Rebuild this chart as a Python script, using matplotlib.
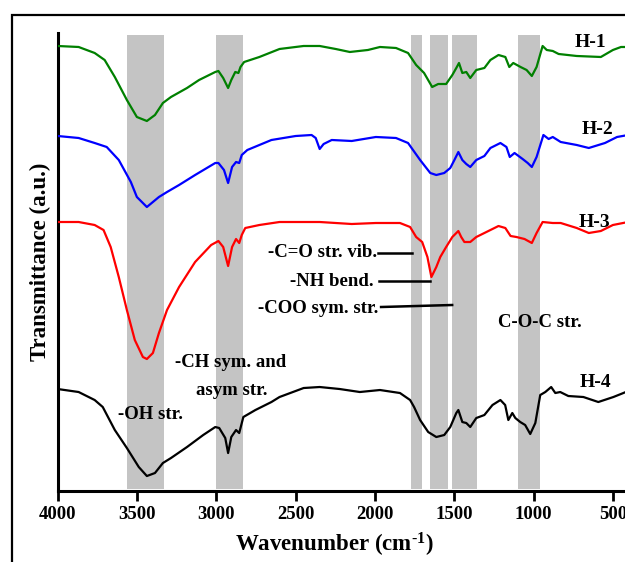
import numpy as np
import matplotlib
matplotlib.use('Agg')
import matplotlib.pyplot as plt
from matplotlib.patches import Rectangle

plt.rcParams['font.family'] = ['Liberation Serif', 'DejaVu Serif']
plt.rcParams['font.weight'] = 'bold'
plt.rcParams['mathtext.fontset'] = 'custom'
plt.rcParams['mathtext.rm'] = 'Liberation Serif:bold'
plt.rcParams['mathtext.bf'] = 'Liberation Serif:bold'
plt.rcParams['mathtext.default'] = 'bf'

# spectra (wavenumber, transmittance a.u. incl. stacking offset)
wn_h1 = [4000, 3868, 3767, 3704, 3640, 3564, 3501, 3438, 3387, 3337, 3286, 3185, 3109,
         3007, 2987, 2957, 2926, 2906, 2881, 2861, 2848, 2825, 2729, 2602, 2450, 2349,
         2248, 2159, 2045, 1969, 1868, 1792, 1741, 1691, 1640, 1602, 1552, 1513, 1488,
         1471, 1450, 1425, 1400, 1362, 1311, 1273, 1222, 1179, 1154, 1129, 1083, 1045,
         1012, 982, 944, 918, 880, 843, 729, 577, 501, 450, 405]
t_h1 = [4.45, 4.44, 4.38, 4.31, 4.14, 3.91, 3.74, 3.70, 3.76, 3.88, 3.94, 4.03, 4.11,
        4.19, 4.20, 4.13, 4.03, 4.11, 4.19, 4.18, 4.24, 4.29, 4.34, 4.42, 4.45, 4.45,
        4.42, 4.39, 4.41, 4.44, 4.43, 4.38, 4.26, 4.18, 4.04, 4.07, 4.07, 4.16, 4.23,
        4.28, 4.18, 4.19, 4.13, 4.21, 4.23, 4.31, 4.36, 4.34, 4.24, 4.28, 4.24, 4.21,
        4.15, 4.24, 4.45, 4.41, 4.40, 4.37, 4.35, 4.34, 4.41, 4.44, 4.44]

wn_h2 = [4000, 3868, 3767, 3691, 3615, 3539, 3501, 3438, 3362, 3311, 3235, 3134, 3007,
         2987, 2952, 2926, 2901, 2876, 2856, 2840, 2805, 2653, 2500, 2400, 2374, 2349,
         2324, 2273, 2147, 1995, 1868, 1792, 1716, 1652, 1614, 1564, 1526, 1500, 1475,
         1450, 1425, 1400, 1362, 1311, 1273, 1210, 1172, 1151, 1121, 1070, 1038, 1012,
         982, 939, 906, 880, 830, 729, 653, 551, 475, 405]
t_h2 = [3.55, 3.53, 3.48, 3.44, 3.31, 3.09, 2.94, 2.84, 2.94, 2.99, 3.06, 3.16, 3.28,
        3.28, 3.21, 3.08, 3.24, 3.29, 3.28, 3.36, 3.41, 3.51, 3.55, 3.56, 3.53, 3.42,
        3.47, 3.51, 3.50, 3.54, 3.53, 3.48, 3.31, 3.18, 3.16, 3.18, 3.23, 3.31, 3.39,
        3.31, 3.27, 3.24, 3.31, 3.35, 3.43, 3.48, 3.44, 3.34, 3.38, 3.32, 3.28, 3.24,
        3.34, 3.56, 3.52, 3.54, 3.49, 3.46, 3.43, 3.48, 3.54, 3.56]

wn_h3 = [4000, 3868, 3767, 3711, 3666, 3615, 3564, 3514, 3463, 3438, 3400, 3362, 3311,
         3235, 3134, 3033, 2987, 2957, 2926, 2901, 2876, 2856, 2840, 2818, 2729, 2602,
         2349, 2147, 1995, 1843, 1779, 1741, 1703, 1670, 1645, 1614, 1589, 1552, 1513,
         1475, 1457, 1437, 1400, 1362, 1311, 1222, 1179, 1146, 1109, 1058, 1012, 982,
         944, 880, 830, 729, 653, 577, 501, 405]
t_h3 = [2.69, 2.69, 2.66, 2.61, 2.44, 2.14, 1.81, 1.51, 1.34, 1.32, 1.38, 1.58, 1.81,
        2.04, 2.29, 2.46, 2.50, 2.44, 2.25, 2.44, 2.52, 2.48, 2.56, 2.63, 2.66, 2.69,
        2.69, 2.67, 2.68, 2.68, 2.64, 2.54, 2.49, 2.34, 2.14, 2.24, 2.34, 2.44, 2.54,
        2.60, 2.54, 2.49, 2.49, 2.54, 2.58, 2.65, 2.63, 2.55, 2.54, 2.52, 2.48, 2.58,
        2.69, 2.68, 2.68, 2.63, 2.58, 2.60, 2.66, 2.69]

wn_h4 = [4000, 3868, 3767, 3716, 3640, 3564, 3489, 3438, 3387, 3337, 3286, 3185, 3083,
         3007, 2982, 2944, 2926, 2906, 2876, 2856, 2830, 2754, 2653, 2602, 2450, 2349,
         2223, 2096, 1969, 1843, 1779, 1754, 1716, 1665, 1614, 1564, 1526, 1488, 1475,
         1450, 1425, 1400, 1362, 1311, 1260, 1210, 1180, 1160, 1135, 1116, 1085, 1054,
         1022, 990, 959, 927, 890, 864, 833, 782, 687, 593, 498, 435, 405]
t_h4 = [1.02, 0.99, 0.91, 0.84, 0.61, 0.43, 0.24, 0.15, 0.18, 0.28, 0.33, 0.44, 0.56,
        0.64, 0.63, 0.53, 0.38, 0.54, 0.61, 0.58, 0.74, 0.81, 0.89, 0.94, 1.03, 1.04,
        1.02, 0.99, 1.01, 0.98, 0.91, 0.84, 0.71, 0.59, 0.54, 0.56, 0.64, 0.78, 0.81,
        0.69, 0.68, 0.64, 0.73, 0.76, 0.86, 0.91, 0.86, 0.71, 0.78, 0.73, 0.69, 0.66,
        0.57, 0.68, 0.96, 0.99, 1.04, 0.98, 0.99, 0.95, 0.94, 0.89, 0.94, 0.98, 1.00]

series = [(wn_h1, t_h1, '#008000', 'H-1'),
          (wn_h2, t_h2, '#0000ff', 'H-2'),
          (wn_h3, t_h3, '#ff0000', 'H-3'),
          (wn_h4, t_h4, '#000000', 'H-4')]
label_pos = [(644, 4.48), (600, 3.61), (618, 2.69), (612, 1.09)]

# highlighted bands (wavenumber ranges)
bands = [(3565, 3330), (3004, 2832), (1772, 1705), (1655, 1542), (1516, 1358), (1102, 962)]

fig = plt.figure(figsize=(6.25, 5.62), dpi=100)
ax = fig.add_axes([0.0923, 0.1263, 0.914, 0.815])

for lo, hi in bands:
    ax.axvspan(hi, lo, ymin=0.004, ymax=0.996, color='#c4c4c4', lw=0, zorder=0)

for (wn, t, col, name), (lx, ly) in zip(series, label_pos):
    ax.plot(wn, t, color=col, lw=1.6, zorder=3, solid_joinstyle='round')
    ax.text(lx, ly, name, fontsize=14, fontweight='bold', ha='center', va='center', zorder=4)

txt = dict(fontsize=13.5, fontweight='bold', va='center')
ax.text(3412, 0.77, '-OH str.', ha='center', **txt)
ax.text(2913, 1.29, '-CH sym. and', ha='center', **txt)
ax.text(2900, 1.01, 'asym str.', ha='center', **txt)
ax.text(959, 1.69, 'C-O-C str.', ha='center', **txt)

ax.text(1990, 2.39, '-C=O str. vib.', ha='right', **txt)
ax.plot([1980, 1766], [2.38, 2.38], color='black', lw=1.8)
ax.text(2008, 2.10, '-NH bend.', ha='right', **txt)
ax.plot([1973, 1652], [2.10, 2.10], color='black', lw=1.8)
ax.text(1978, 1.83, '-COO sym. str.', ha='right', **txt)
ax.plot([1962, 1514], [1.84, 1.86], color='black', lw=1.8)

ax.set_xlim(4000, 400)
ax.set_ylim(0, 4.58)
ax.set_xticks([4000, 3500, 3000, 2500, 2000, 1500, 1000, 500])
ax.set_yticks([])
ax.tick_params(axis='x', direction='out', length=7, width=2, labelsize=13.5, pad=4)
for lab in ax.get_xticklabels():
    lab.set_fontweight('bold')
for side in ['top', 'right']:
    ax.spines[side].set_visible(False)
for side in ['left', 'bottom']:
    ax.spines[side].set_linewidth(2.2)

fig.text(334 / 625, 1 - 545 / 562, r'Wavenumber (cm$^{\text{-1}}$)', fontsize=16.5,
         fontweight='bold', ha='center', va='center')
fig.text(40 / 625, 1 - 262 / 562, 'Transmittance (a.u.)', fontsize=16.5,
         fontweight='bold', ha='center', va='center', rotation=90)

fig.add_artist(Rectangle((12 / 625, -0.1), 1.5, 1.1 - 15 / 562, transform=fig.transFigure,
                         fill=False, ec='black', lw=1.6))

fig.savefig('out.png', dpi=100)
